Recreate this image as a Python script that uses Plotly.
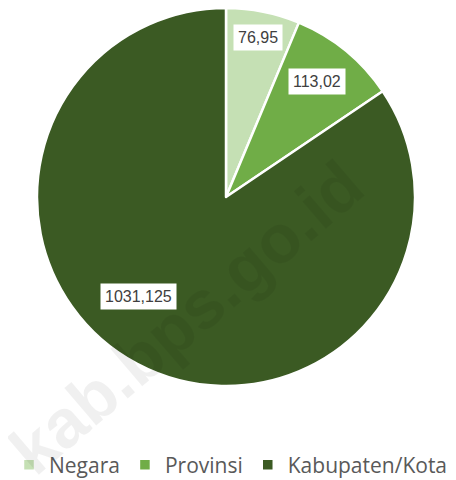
import math
import plotly.graph_objects as go

labels = ["Negara", "Provinsi", "Kabupaten/Kota"]
values = [76.95, 113.02, 1031.125]
value_text = ["76,95", "113,02", "1031,125"]
colors = ["#c5e0b4", "#70ad47", "#3b5a23"]

# the page body has an 8px margin, so the figure is drawn in page coordinates minus 8
OFF = 8
W, H = 456 - OFF, 480 - OFF
cx, cy, R = 226 - OFF, 197 - OFF, 189

fig = go.Figure()
fig.add_trace(go.Pie(
    labels=labels, values=values, sort=False, direction="clockwise", rotation=0,
    marker=dict(colors=colors, line=dict(color="white", width=2.5)),
    textinfo="none", hoverinfo="label+value",
    domain=dict(x=[(cx - R) / W, (cx + R) / W],
                y=[max(0, (H - cy - R) / H), min(1, (H - cy + R) / H)]),
))

# data labels placed along each slice (radius fraction, angle offset in degrees)
label_pos = [(0.86, 0.0), (0.78, -1.0), (0.70, 13.5)]
total = sum(values)
cum = 0.0
for v, t, (rf, off) in zip(values, value_text, label_pos):
    mid = (cum + v / 2) / total * 360 + off
    cum += v
    a = math.radians(mid)
    px = cx + rf * R * math.sin(a)
    py = cy - rf * R * math.cos(a)
    fig.add_annotation(
        x=px / W, y=1 - py / H, xref="paper", yref="paper", text=t, showarrow=False,
        xanchor="center", yanchor="middle",
        font=dict(family="Liberation Sans, Arial, sans-serif", size=16, color="#404040"),
        bgcolor="white", borderpad=4,
    )

# watermark
fig.add_annotation(
    x=(186 - OFF) / W, y=1 - (317 - OFF) / H, xref="paper", yref="paper",
    xanchor="center", yanchor="middle",
    text="<b>kab.bps.go.id</b>", showarrow=False, textangle=-40.6,
    font=dict(family="Liberation Sans, Arial, sans-serif", size=68, color="rgba(0,0,0,0.06)"),
)

fig.update_layout(
    width=W, height=H, margin=dict(l=0, r=0, t=0, b=0, autoexpand=False),
    paper_bgcolor="white", plot_bgcolor="white",
    showlegend=True,
    legend=dict(
        orientation="h", x=(231 - OFF) / W, xanchor="center", y=1 - (465 - OFF) / H, yanchor="middle",
        font=dict(family="Open Sans, sans-serif", size=21, color="#595959"),
        itemwidth=30, traceorder="normal", tracegroupgap=0,
    ),
)

fig.write_html("out.html")
